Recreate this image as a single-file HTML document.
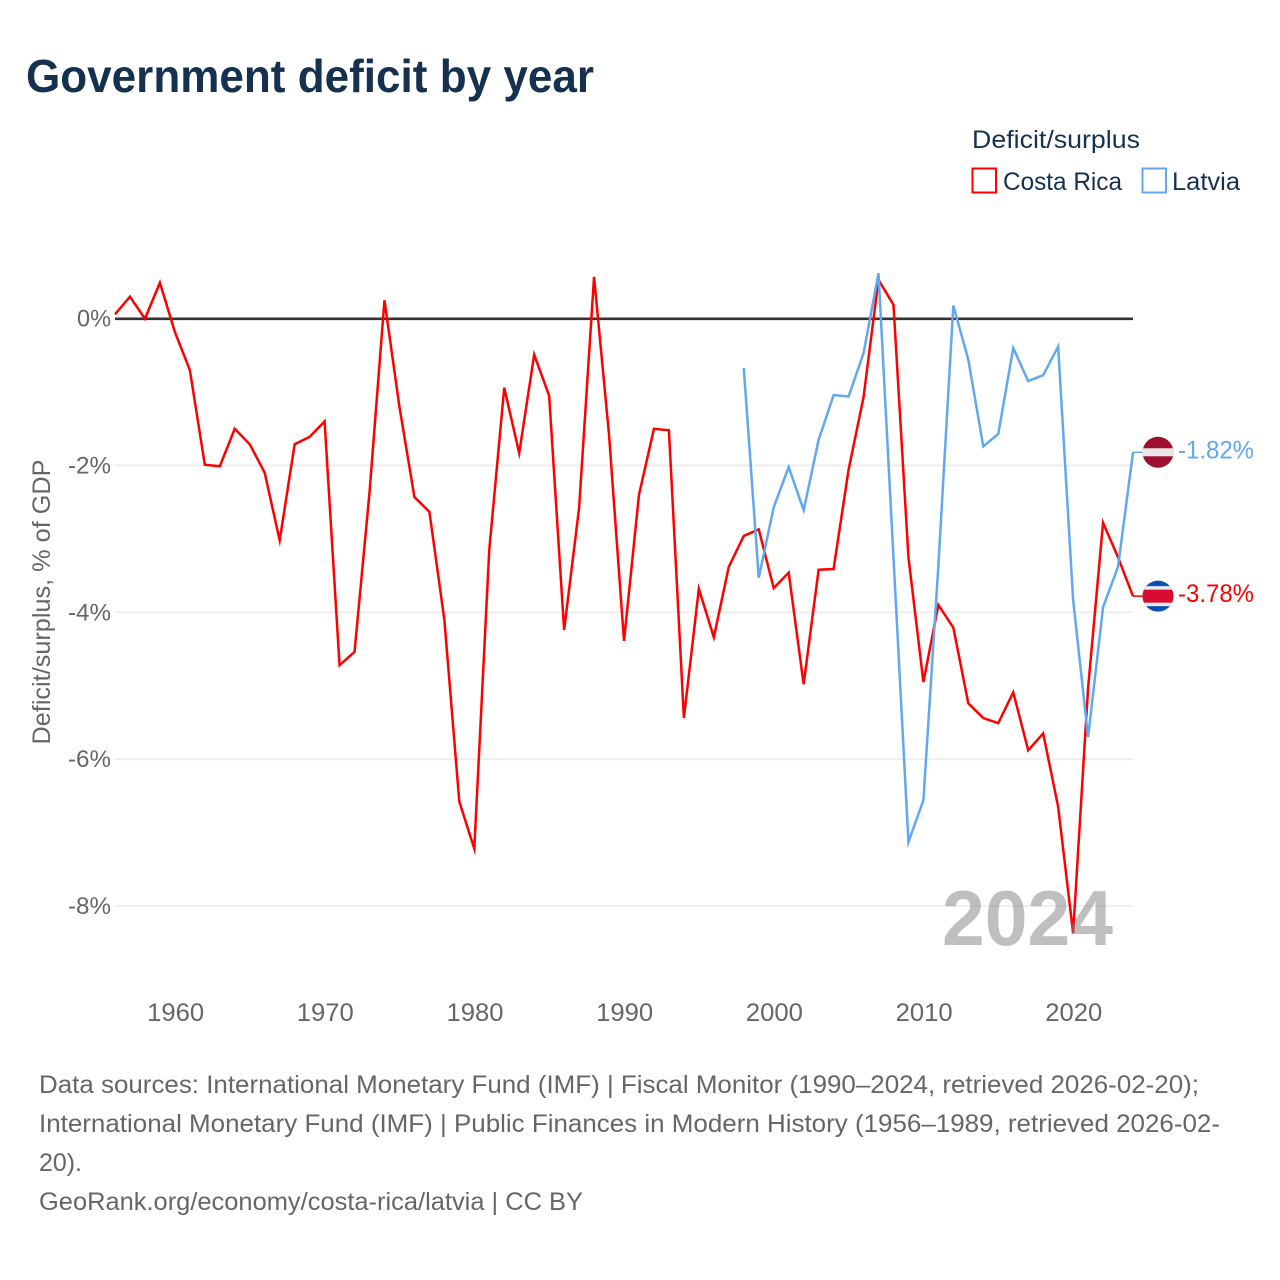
<!DOCTYPE html>
<html lang="en">
<head>
<meta charset="utf-8">
<title>Government deficit by year</title>
<style>
html,body{margin:0;padding:0;background:#fff;}
svg{display:block;font-family:"Liberation Sans",sans-serif;}
</style>
</head>
<body>
<svg id="chart" xmlns="http://www.w3.org/2000/svg" width="1280" height="1280" viewBox="0 0 1280 1280">
  <rect x="0" y="0" width="1280" height="1280" fill="#ffffff"/>
  <text x="26" y="92" font-size="46" font-weight="700" fill="#16304f" textLength="568" lengthAdjust="spacingAndGlyphs">Government deficit by year</text>

  <g>
    <text x="972" y="148" font-size="25" fill="#16304f" textLength="168" lengthAdjust="spacingAndGlyphs">Deficit/surplus</text>
    <rect x="972.5" y="168.5" width="23.5" height="24" fill="#ffffff" stroke="#ff0000" stroke-width="2"/>
    <text x="1003" y="190" font-size="25" fill="#16304f" textLength="119" lengthAdjust="spacingAndGlyphs">Costa Rica</text>
    <rect x="1142.5" y="168.5" width="23.5" height="24" fill="#ffffff" stroke="#62a8ee" stroke-width="2"/>
    <text x="1172" y="190" font-size="25" fill="#16304f" textLength="68" lengthAdjust="spacingAndGlyphs">Latvia</text>
  </g>

  <text transform="translate(50,602) rotate(-90)" text-anchor="middle" font-size="25" fill="#666666" textLength="285" lengthAdjust="spacingAndGlyphs">Deficit/surplus, % of GDP</text>

  <g id="grid"></g>
  <g id="yticks"></g>
  <g id="xticks"></g>
  <g id="series"></g>
  <text id="watermark" x="1113" y="945" text-anchor="end" font-size="78" font-weight="700" fill="#808080" fill-opacity="0.5" textLength="171" lengthAdjust="spacingAndGlyphs"></text>
  <g id="ends"></g>

  <g font-size="25" fill="#666666">
    <text x="39" y="1093" textLength="1160" lengthAdjust="spacingAndGlyphs">Data sources: International Monetary Fund (IMF) | Fiscal Monitor (1990–2024, retrieved 2026-02-20);</text>
    <text x="39" y="1132" textLength="1181" lengthAdjust="spacingAndGlyphs">International Monetary Fund (IMF) | Public Finances in Modern History (1956–1989, retrieved 2026-02-</text>
    <text x="39" y="1171" textLength="43" lengthAdjust="spacingAndGlyphs">20).</text>
    <text x="39" y="1210" textLength="544" lengthAdjust="spacingAndGlyphs">GeoRank.org/economy/costa-rica/latvia | CC BY</text>
  </g>
</svg>
<script>
var firstYear = 1956;
var lastYear = 2024;
var yTickValues = [0, -2, -4, -6, -8];
var xTickYears = [1960, 1970, 1980, 1990, 2000, 2010, 2020];
var costaRicaStart = 1956;
var costaRicaValues = [0.06, 0.30, 0.00, 0.49, -0.18, -0.70, -1.99, -2.01, -1.50, -1.71,
  -2.10, -3.02, -1.71, -1.61, -1.40, -4.72, -4.54, -2.37, 0.25, -1.20,
  -2.43, -2.63, -4.10, -6.58, -7.22, -3.15, -0.94, -1.83, -0.49, -1.05,
  -4.24, -2.58, 0.57, -1.58, -4.39, -2.40, -1.50, -1.52, -5.44, -3.68,
  -4.34, -3.38, -2.96, -2.87, -3.67, -3.46, -4.98, -3.42, -3.41, -2.06,
  -1.07, 0.53, 0.19, -3.25, -4.95, -3.90, -4.21, -5.24, -5.44, -5.51,
  -5.09, -5.88, -5.65, -6.65, -8.37, -5.03, -2.78, -3.25, -3.78];
var latviaStart = 1998;
var latviaValues = [-0.67, -3.53, -2.57, -2.02, -2.61, -1.65, -1.04, -1.06, -0.47, 0.62,
  -3.25, -7.13, -6.56, -3.36, 0.18, -0.56, -1.74, -1.57, -0.40, -0.85,
  -0.77, -0.38, -3.83, -5.70, -3.93, -3.38, -1.82];

var NS = 'http://www.w3.org/2000/svg';
function xScale(year) {
  return 115 + (year - firstYear) * (1133 - 115) / (lastYear - firstYear);
}
function yScale(value) {
  return 318.7 - value * 73.4;
}
function make(tag, attrs, parent) {
  var el = document.createElementNS(NS, tag);
  for (var k in attrs) { el.setAttribute(k, attrs[k]); }
  parent.appendChild(el);
  return el;
}
var grid = document.getElementById('grid');
var yticks = document.getElementById('yticks');
var xticks = document.getElementById('xticks');
var series = document.getElementById('series');
var ends = document.getElementById('ends');

yTickValues.forEach(function (v) {
  var y = yScale(v);
  if (v === 0) {
    var under = make('line', {x1: 115, x2: 1133, y1: y + 0.8, y2: y + 0.8, stroke: '#cccccc', 'stroke-width': 2}, grid);
    
    
  }
  var line = make('line', {x1: 115, x2: 1133, y1: y, y2: y, stroke: v === 0 ? '#333333' : '#eeeeee', 'stroke-width': v === 0 ? 2.5 : 2}, grid);
  
  
  var label = make('text', {x: 111, y: y + 8, 'text-anchor': 'end', 'font-size': 24, fill: '#666666', textLength: v === 0 ? 34 : 43, lengthAdjust: 'spacingAndGlyphs'}, yticks);
  
  
  label.textContent = v + '%';
});

xTickYears.forEach(function (yr) {
  var label = make('text', {x: xScale(yr) + 0.7, y: 1021, 'text-anchor': 'middle', 'font-size': 25, fill: '#666666', textLength: 57, lengthAdjust: 'spacingAndGlyphs'}, xticks);
  
  
  label.textContent = yr;
});

function drawSeries(values, start, color) {
  var pts = values.map(function (v, i) {
    return xScale(start + i).toFixed(2) + ',' + yScale(v).toFixed(2);
  }).join(' ');
  return make('polyline', {points: pts, fill: 'none', stroke: color, 'stroke-width': 2.5, 'stroke-linejoin': 'miter', 'stroke-miterlimit': 6}, series);
}
var redLine = drawSeries(costaRicaValues, costaRicaStart, '#ff0000');


var blueLine = drawSeries(latviaValues, latviaStart, '#62a8ee');



document.getElementById('watermark').textContent = lastYear;

function drawEnd(values, color, bands, clipId) {
  var v = values[values.length - 1];
  var y = yScale(v);
  var xEnd = xScale(lastYear);
  var cx = xEnd + 25;
  var group = make('g', {}, ends);
  var conn = make('line', {x1: xEnd, x2: cx - 15, y1: y, y2: y, stroke: color, 'stroke-width': 1.5}, group);
  
  
  var clip = make('clipPath', {id: clipId}, group);
  make('circle', {cx: cx, cy: y, r: 15.5}, clip);
  var flag = make('g', {'clip-path': 'url(#' + clipId + ')'}, group);
  
  
  bands.forEach(function (b) {
    make('rect', {x: cx - 16, y: y - b[0], width: 32, height: b[0] * 2, fill: b[1]}, flag);
  });
  var label = make('text', {x: xEnd + 45, y: y + 6, 'font-size': 25, fill: color, textLength: 76, lengthAdjust: 'spacingAndGlyphs'}, group);
  
  
  label.textContent = v.toFixed(2) + '%';
}
drawEnd(latviaValues, '#62a8ee', [[16, '#9e1030'], [4, '#e9e4e5']], 'clip-latvia');
drawEnd(costaRicaValues, '#ff0000', [[16, '#0a50b0'], [10, '#e9e9ee'], [6.5, '#da0b30']], 'clip-costa-rica');
</script>
</body>
</html>
